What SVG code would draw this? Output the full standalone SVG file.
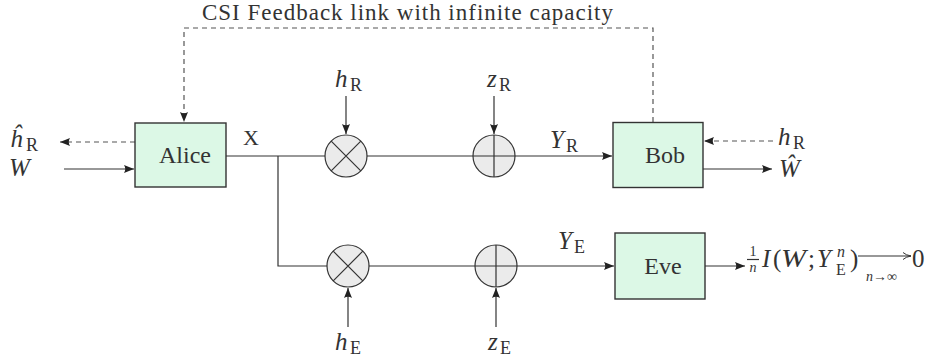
<svg xmlns="http://www.w3.org/2000/svg" width="932" height="360" viewBox="0 0 932 360">
<style>
.box{fill:#dcf8e6;stroke:#333;stroke-width:1.4}
.op{fill:#ebebeb;stroke:#333;stroke-width:1.2}
.ln{stroke:#333;stroke-width:1.2;fill:none}
.dash{stroke:#555;stroke-width:1.2;fill:none;stroke-dasharray:5 4}
text{fill:#333;font-family:"Liberation Serif","Times New Roman",serif}
.it{font-style:italic}
.big{font-size:25px}
.sub{font-size:18px}
</style>
<defs>
<marker id="ah" markerUnits="userSpaceOnUse" markerWidth="11" markerHeight="8" refX="10" refY="4" orient="auto">
<path d="M0,0 L10,4 L0,8 Q2.5,4 0,0 z" fill="#222"/>
</marker>
<marker id="ahs" markerUnits="userSpaceOnUse" markerWidth="9" markerHeight="8" refX="8" refY="4" orient="auto">
<path d="M0,0.5 Q3,3.2 8,4 Q3,4.8 0,7.5" fill="none" stroke="#333" stroke-width="1"/>
</marker>
</defs>

<text x="202" y="20" font-size="23" textLength="411" lengthAdjust="spacing">CSI Feedback link with infinite capacity</text>

<g id="connectors">
<path class="dash" d="M653,122 V28 H184 V122" marker-end="url(#ah)"/>
<path class="dash" d="M135,142 H60" marker-end="url(#ah)"/>
<path class="ln" d="M64,169 H134" marker-end="url(#ah)"/>
<path class="ln" d="M226,156 H612" marker-end="url(#ah)"/>
<path class="ln" d="M278,156 V266 H614" marker-end="url(#ah)"/>
<path class="ln" d="M346,96 V134" marker-end="url(#ah)"/>
<path class="ln" d="M494,96 V134" marker-end="url(#ah)"/>
<path class="ln" d="M348,327 V288" marker-end="url(#ah)"/>
<path class="ln" d="M496,327 V288" marker-end="url(#ah)"/>
<path class="dash" d="M773,141 H704" marker-end="url(#ah)"/>
<path class="ln" d="M703,169 H772" marker-end="url(#ah)"/>
<path class="ln" d="M705,266 H745" marker-end="url(#ah)"/>
</g>

<g id="alice">
<rect class="box" x="135" y="123" width="91" height="64"/>
<text x="185" y="163" font-size="24" text-anchor="middle">Alice</text>
</g>
<g id="bob">
<rect class="box" x="613" y="122.5" width="90" height="65"/>
<text x="665" y="163" font-size="24" text-anchor="middle">Bob</text>
</g>
<g id="eve">
<rect class="box" x="615" y="233" width="90" height="66"/>
<text x="663" y="274" font-size="24" text-anchor="middle">Eve</text>
</g>

<g id="mult-r">
<circle class="op" cx="346" cy="156" r="21"/>
<path class="ln" d="M331.2,141.2 L360.8,170.8 M360.8,141.2 L331.2,170.8"/>
</g>
<g id="add-r">
<circle class="op" cx="494" cy="156" r="21"/>
<path class="ln" d="M473,156 H515 M494,135 V177"/>
</g>
<g id="mult-e">
<circle class="op" cx="348" cy="266" r="21"/>
<path class="ln" d="M333.2,251.2 L362.8,280.8 M362.8,251.2 L333.2,280.8"/>
</g>
<g id="add-e">
<circle class="op" cx="496" cy="266" r="21"/>
<path class="ln" d="M475,266 H517 M496,245 V287"/>
</g>

<g id="labels">
<text x="243" y="145" font-size="22">X</text>
<text class="it big" x="335" y="87">h</text><text class="sub" x="350" y="91">R</text>
<text class="it big" x="487" y="87">z</text><text class="sub" x="499" y="91">R</text>
<text class="it big" x="550" y="148">Y</text><text class="sub" x="566" y="152">R</text>
<text class="it big" x="558" y="249">Y</text><text class="sub" x="574" y="253">E</text>
<text class="it big" x="335" y="350">h</text><text class="sub" x="350" y="354">E</text>
<text class="it big" x="488" y="350">z</text><text class="sub" x="500" y="354">E</text>
<text class="it big" x="10" y="147">ĥ</text><text class="sub" x="26" y="151">R</text>
<text class="it big" x="9" y="176">W</text>
<text class="it big" x="778" y="145">h</text><text class="sub" x="793" y="149">R</text>
<text class="it big" x="779" y="177">Ŵ</text>
</g>

<g id="formula">
<text x="753" y="256" font-size="14" text-anchor="middle">1</text>
<path class="ln" d="M747,259.5 H759" stroke-width="1"/>
<text class="it" x="753" y="272" font-size="14" text-anchor="middle">n</text>
<text class="it big" x="762" y="267">I</text>
<text class="big" x="773" y="267">(</text>
<text class="it big" x="781" y="267" textLength="25" lengthAdjust="spacingAndGlyphs">W</text>
<text class="big" x="808" y="267">;</text>
<text class="it big" x="817" y="267">Y</text>
<text class="it" x="837" y="257" font-size="16">n</text>
<text x="836" y="275" font-size="16">E</text>
<text class="big" x="850" y="267">)</text>
<path class="ln" d="M858,256 H911" marker-end="url(#ahs)"/>
<text x="912" y="267" font-size="25">0</text>
<text class="it" x="866" y="281" font-size="14">n</text>
<text x="873" y="281" font-size="14">→∞</text>
</g>
</svg>
